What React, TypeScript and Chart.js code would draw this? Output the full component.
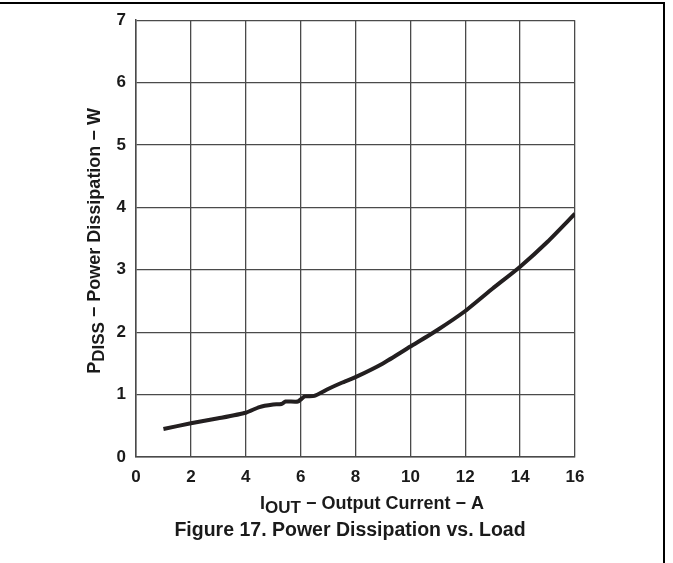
import React, { useEffect, useRef } from "react";
import { Chart, registerables } from "chart.js";
Chart.register(...registerables);

// Output current (A)
const currentA = [1, 2, 3, 4, 4.5, 5, 5.3, 5.45, 5.9, 6.15, 6.5, 7, 7.5, 8, 9, 10, 11, 12, 13, 14, 15, 16];
// Power dissipation (W)
const powerW = [0.45, 0.54, 0.62, 0.71, 0.8, 0.84, 0.85, 0.89, 0.89, 0.97, 0.98, 1.09, 1.19, 1.28, 1.5, 1.77, 2.04, 2.34, 2.7, 3.05, 3.45, 3.9];

const xMin = 0;
const xMax = 16;
const xStep = 2;
const yMin = 0;
const yMax = 7;
const yStep = 1;

const xTitleMain = "I";
const xTitleSub = "OUT";
const xTitleRest = " − Output Current − A";
const yTitleMain = "P";
const yTitleSub = "DISS";
const yTitleRest = " − Power Dissipation − W";
const caption = "Figure 17. Power Dissipation vs. Load";

const FONT = "'Liberation Sans', Arial, sans-serif";
const INK = "#1a1a1a";
const GRID = "#4a4a4a";

function drawSubTitle(ctx: CanvasRenderingContext2D, main: string, sub: string, rest: string, size: number, subSize: number, drop: number) {
  ctx.font = `bold ${size}px ${FONT}`;
  const w1 = ctx.measureText(main).width;
  const w3 = ctx.measureText(rest).width;
  ctx.font = `bold ${subSize}px ${FONT}`;
  const w2 = ctx.measureText(sub).width;
  const total = w1 + w2 + w3;
  let x = -total / 2;
  ctx.textAlign = "left";
  ctx.textBaseline = "alphabetic";
  ctx.font = `bold ${size}px ${FONT}`;
  ctx.fillText(main, x, 0);
  x += w1;
  ctx.font = `bold ${subSize}px ${FONT}`;
  ctx.fillText(sub, x, drop);
  x += w2;
  ctx.font = `bold ${size}px ${FONT}`;
  ctx.fillText(rest, x, 0);
}

const titlePlugin = {
  id: "titles",
  afterDraw(chart: any) {
    const ctx: CanvasRenderingContext2D = chart.ctx;
    ctx.save();
    ctx.fillStyle = INK;
    // x title
    ctx.save();
    ctx.translate(372, 508.5);
    drawSubTitle(ctx, xTitleMain, xTitleSub, xTitleRest, 18, 17, 4.5);
    ctx.restore();
    // y title
    ctx.save();
    ctx.translate(99.5, 241);
    ctx.rotate(-Math.PI / 2);
    drawSubTitle(ctx, yTitleMain, yTitleSub, yTitleRest, 18, 17, 4.5);
    ctx.restore();
    // caption
    ctx.font = `bold 19.5px ${FONT}`;
    ctx.textAlign = "center";
    ctx.textBaseline = "alphabetic";
    ctx.fillText(caption, 350, 535.5);
    ctx.restore();
  },
};

export default function App() {
  const ref = useRef<HTMLCanvasElement>(null);
  useEffect(() => {
    document.body.style.margin = "0";
    const chart = new Chart(ref.current!, {
      type: "line",
      data: {
        datasets: [
          {
            data: currentA.map((x, i) => ({ x, y: powerW[i] })),
            borderColor: "#231f20",
            borderWidth: 4,
            pointRadius: 0,
            tension: 0.2,
            borderJoinStyle: "round",
            borderCapStyle: "butt",
            fill: false,
          },
        ],
      },
      options: {
        animation: false,
        responsive: false,
        maintainAspectRatio: false,
        layout: { padding: { top: 18, right: 98, left: 0, bottom: 0 } },
        plugins: { legend: { display: false }, tooltip: { enabled: false } },
        scales: {
          x: {
            type: "linear",
            min: xMin,
            max: xMax,
            ticks: { stepSize: xStep, padding: 10, color: INK, font: { family: FONT, size: 17, weight: "bold" } },
            grid: { color: GRID, lineWidth: 1.3, drawTicks: false },
            border: { color: GRID, width: 1.5 },
            afterFit: (s: any) => {
              s.height = 106;
            },
          },
          y: {
            type: "linear",
            min: yMin,
            max: yMax,
            ticks: { stepSize: yStep, padding: 10, color: INK, font: { family: FONT, size: 17, weight: "bold" } },
            grid: { color: GRID, lineWidth: 1.3, drawTicks: false },
            border: { color: GRID, width: 1.5 },
            afterFit: (s: any) => {
              s.width = 136;
            },
          },
        },
      } as any,
      plugins: [titlePlugin],
    });
    return () => chart.destroy();
  }, []);
  return (
    <div style={{ position: "relative", width: 673, height: 563, background: "#fff" }}>
      <canvas ref={ref} width={673} height={563} style={{ width: 673, height: 563, display: "block" }} />
      <div
        style={{
          position: "absolute",
          left: 0,
          top: 2,
          width: 663,
          height: 561,
          borderTop: "2px solid #000",
          borderRight: "2px solid #000",
          pointerEvents: "none",
        }}
      />
    </div>
  );
}
